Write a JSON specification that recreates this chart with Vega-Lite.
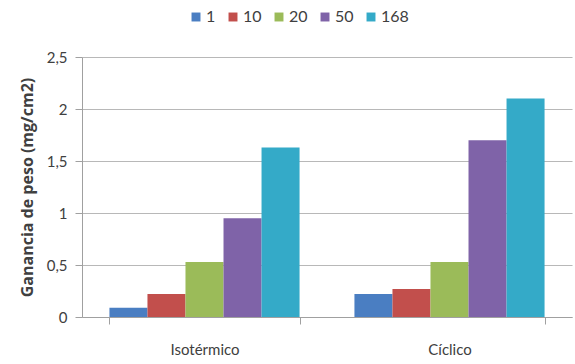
{
  "$schema": "https://vega.github.io/schema/vega-lite/v6.json",
  "width": 490,
  "height": 260,
  "autosize": {"type": "none"},
  "padding": {"left": 82, "top": 57, "right": 3, "bottom": 47},
  "background": "white",
  "config": {
    "locale": {"number": {"decimal": ",", "thousands": ".", "grouping": [3], "currency": ["", " €"]}},
    "view": {"stroke": null},
    "font": "Lato"
  },
  "data": {
    "values": [
      {"ensayo": "Isotérmico", "tiempo": "1", "ganancia": 0.09},
      {"ensayo": "Isotérmico", "tiempo": "10", "ganancia": 0.22},
      {"ensayo": "Isotérmico", "tiempo": "20", "ganancia": 0.53},
      {"ensayo": "Isotérmico", "tiempo": "50", "ganancia": 0.95},
      {"ensayo": "Isotérmico", "tiempo": "168", "ganancia": 1.63},
      {"ensayo": "Cíclico", "tiempo": "1", "ganancia": 0.22},
      {"ensayo": "Cíclico", "tiempo": "10", "ganancia": 0.27},
      {"ensayo": "Cíclico", "tiempo": "20", "ganancia": 0.53},
      {"ensayo": "Cíclico", "tiempo": "50", "ganancia": 1.70},
      {"ensayo": "Cíclico", "tiempo": "168", "ganancia": 2.10}
    ]
  },
  "mark": {"type": "bar"},
  "encoding": {
    "x": {
      "field": "ensayo",
      "type": "nominal",
      "sort": ["Isotérmico", "Cíclico"],
      "scale": {"paddingInner": 0.224, "paddingOuter": 0.112},
      "axis": {
        "title": null,
        "labelAngle": 0,
        "labelFontSize": 15,
        "labelColor": "#404040",
        "labelPadding": 18,
        "tickBand": "extent",
        "tickSize": 7,
        "tickColor": "#a0a0a0",
        "domainColor": "#a0a0a0",
        "grid": false
      }
    },
    "xOffset": {
      "field": "tiempo",
      "type": "nominal",
      "sort": ["1", "10", "20", "50", "168"],
      "scale": {"paddingInner": 0, "paddingOuter": 0}
    },
    "y": {
      "field": "ganancia",
      "type": "quantitative",
      "scale": {"domain": [0, 2.5], "nice": false},
      "axis": {
        "title": "Ganancia de peso (mg/cm2)",
        "titleFont": "Open Sans",
        "titleFontSize": 16,
        "titleFontWeight": "bold",
        "titleColor": "#404040",
        "titlePadding": 11,
        "values": [0, 0.5, 1, 1.5, 2, 2.5],
        "format": "~g",
        "labelFontSize": 15,
        "labelColor": "#404040",
        "labelPadding": 8,
        "tickSize": 7,
        "tickColor": "#a0a0a0",
        "domainColor": "#a0a0a0",
        "gridColor": "#b8b8b8",
        "gridWidth": 1.2
      }
    },
    "color": {
      "field": "tiempo",
      "type": "nominal",
      "scale": {
        "domain": ["1", "10", "20", "50", "168"],
        "range": ["#4a7ec2", "#c24f4c", "#9bbb59", "#7f63a8", "#34aac8"]
      },
      "legend": {
        "title": null,
        "orient": "none",
        "direction": "horizontal",
        "gridAlign": "none",
        "legendX": 106,
        "legendY": -48,
        "symbolType": "square",
        "symbolSize": 80,
        "symbolStrokeWidth": 0,
        "labelFontSize": 16,
        "labelColor": "#404040",
        "labelOffset": 2,
        "columnPadding": 9
      }
    }
  }
}
